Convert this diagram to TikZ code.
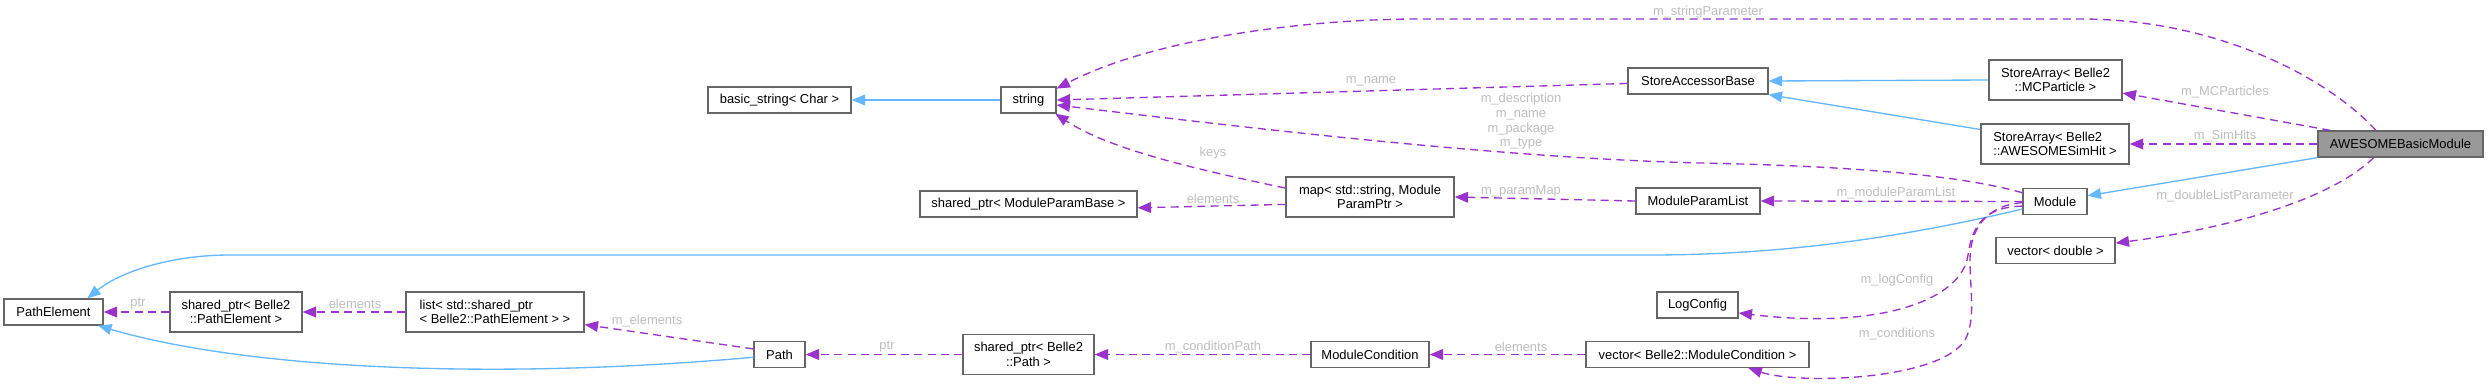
\documentclass[tikz,border=0pt]{standalone}
\usepackage{fontspec}
\setmainfont{Liberation Sans}
\usetikzlibrary{arrows.meta}
\definecolor{edgeblue}{HTML}{63B8FF}
\definecolor{edgepurple}{HTML}{9A32CD}
\definecolor{boxgray}{HTML}{666666}
\definecolor{lblgray}{HTML}{BEBEBE}
\definecolor{fillgray}{HTML}{999999}
\begin{document}
\begin{tikzpicture}[x=0.75pt,y=-0.75pt,
  cls/.style 2 args={draw=boxgray, line width=1pt, fill=white, rectangle, inner sep=0pt,
    minimum width=#1*0.75pt, minimum height=#2*0.75pt,
    font=\fontsize{9.7}{10.7}\selectfont, align=center},
  inh/.style={draw=edgeblue, line width=1pt, -{Triangle[length=10pt,width=8pt]}},
  dep/.style={draw=edgepurple, line width=1pt, dash pattern=on 6pt off 4pt,
    -{Triangle[length=10pt,width=8pt]}},
  lbl/.style={text=lblgray, inner sep=0pt, align=center,
    font=\fontsize{9.7}{11}\selectfont}
]
\useasboundingbox (0,0) rectangle (2488,385);
\fill[white] (0,0) rectangle (2488,385);

% nodes
\node[cls={99}{26}] (PathElement) at (53.5,312) {PathElement};
\node[cls={132}{40}] (spPE) at (236,312) {shared\_ptr< Belle2\\::PathElement >};
\node[cls={178}{40}, align=left] (listPE) at (495,312) {list< std::shared\_ptr\\< Belle2::PathElement > >};
\node[cls={51}{26}] (Path) at (779.5,354.5) {Path};
\node[cls={143}{26}] (basicstr) at (779.5,100) {basic\_string< Char >};
\node[cls={55}{26}] (string) at (1028.5,100) {string};
\node[cls={217}{26}] (spMPB) at (1028.5,204) {shared\_ptr< ModuleParamBase >};
\node[cls={168}{40}] (map) at (1370,197) {map< std::string, Module\\ParamPtr >};
\node[cls={131}{40}] (spPath) at (1028.5,354.5) {shared\_ptr< Belle2\\::Path >};
\node[cls={118}{26}] (ModCond) at (1370,354.5) {ModuleCondition};
\node[cls={140}{26}] (SAB) at (1698,81) {StoreAccessorBase};
\node[cls={124}{26}] (MPL) at (1698,201) {ModuleParamList};
\node[cls={81}{26}] (LogConfig) at (1697.5,305) {LogConfig};
\node[cls={223}{26}] (vecMC) at (1697.5,354.5) {vector< Belle2::ModuleCondition >};
\node[cls={133}{40}] (SAMC) at (2055.5,80) {StoreArray< Belle2\\::MCParticle >};
\node[cls={148}{40}, align=left] (SASH) at (2055,144) {StoreArray< Belle2\\::AWESOMESimHit >};
\node[cls={64}{26}] (Module) at (2055,201.5) {Module};
\node[cls={119}{26}] (vecD) at (2055.5,250.5) {vector< double >};
\node[cls={165}{26}, fill=fillgray] (AWE) at (2400.5,144) {AWESOMEBasicModule};

% inheritance edges
\draw[inh] (string.west) -- (basicstr.east);
\draw[inh] (SAMC.west) -- (SAB.east);
\draw[inh] (SASH.169) -- (SAB.south east);
\draw[inh] (AWE.south west) -- (Module.10);
\draw[inh] (Module.193) .. controls (1900,238) and (1780,255) .. (1650,255)
  -- (230,255) .. controls (170,255) and (120,272) .. (PathElement.22);
\draw[inh] (Path.186) .. controls (500,380) and (250,370) .. (PathElement.-17);

% usage edges
\draw[dep] (AWE.151) .. controls (2330,80) and (2220,19) .. (2080,19)
  -- (1420,19) .. controls (1300,19) and (1150,40) .. (string.22);
\draw[dep] (SAB.182) -- (string.east);
\draw[dep] (Module.165) .. controls (1960,175) and (1850,166) .. (1700,163)
  .. controls (1500,158) and (1250,128) .. (string.-10);
\draw[dep] (map.174) .. controls (1200,170) and (1110,150) .. (string.-27);
\draw[dep] (map.185) -- (spMPB.-2);
\draw[dep] (MPL.west) -- (map.east);
\draw[dep] (Module.west) -- (MPL.east);
\draw[dep] (AWE.169) -- (SAMC.-11);
\draw[dep] (AWE.west) -- (SASH.east);
\draw[dep] (AWE.207) .. controls (2330,200) and (2230,228) .. (vecD.7);
\draw[dep] (Module.188) .. controls (1985,207) and (1972,225) .. (1968,255)
  .. controls (1962,300) and (1880,330) .. (LogConfig.-11);
\draw[dep] (Module.182) .. controls (1990,205) and (1970,225) .. (1970,260)
  .. controls (1970,290) and (1976,320) .. (1965,340)
  .. controls (1940,380) and (1800,385) .. (vecMC.-15);
\draw[dep] (vecMC.west) -- (ModCond.east);
\draw[dep] (ModCond.west) -- (spPath.east);
\draw[dep] (spPath.west) -- (Path.east);
\draw[dep] (Path.168) -- (listPE.-8);
\draw[dep] (listPE.west) -- (spPE.east);
\draw[dep] (spPE.west) -- (PathElement.east);

% labels
\node[lbl] (lStrPar) at (1708,12) {m\_stringParameter};
\node[lbl] (lName) at (1371,81) {m\_name};
\node[lbl] (lDesc) at (1521,121.5) {m\_description\\m\_name\\m\_package\\m\_type};
\node[lbl] (lKeys) at (1213,153) {keys};
\node[lbl] (lElemMap) at (1213,199) {elements};
\node[lbl] (lParamMap) at (1521,191) {m\_paramMap};
\node[lbl] (lModPL) at (1896,193) {m\_moduleParamList};
\node[lbl] (lMCP) at (2225,92) {m\_MCParticles};
\node[lbl] (lSimHits) at (2225,136) {m\_SimHits};
\node[lbl] (lDbl) at (2225,196) {m\_doubleListParameter};
\node[lbl] (lLog) at (1897,280) {m\_logConfig};
\node[lbl] (lCond) at (1897,334) {m\_conditions};
\node[lbl] (lPtr1) at (138,304) {ptr};
\node[lbl] (lElem1) at (355,304) {elements};
\node[lbl] (lMElem) at (647,321) {m\_elements};
\node[lbl] (lPtr2) at (887,347) {ptr};
\node[lbl] (lCondPath) at (1213,347) {m\_conditionPath};
\node[lbl] (lElem2) at (1521,347) {elements};
\end{tikzpicture}
\end{document}
